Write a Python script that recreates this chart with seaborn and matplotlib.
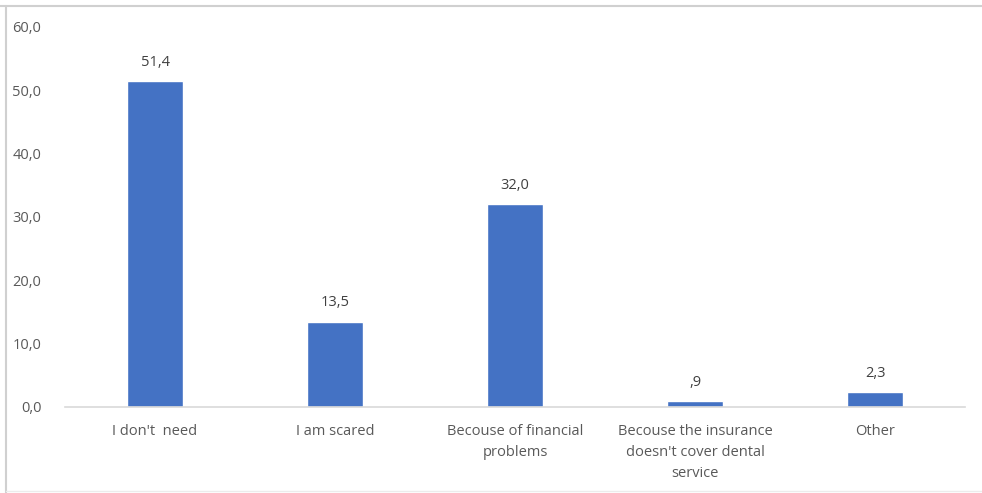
import matplotlib
matplotlib.use("Agg")
import matplotlib.pyplot as plt
from matplotlib.lines import Line2D
import seaborn as sns
import pandas as pd

categories = [
    "I don't  need",
    "I am scared",
    "Becouse of financial\nproblems",
    "Becouse the insurance\ndoesn't cover dental\nservice",
    "Other",
]
percentages = [51.4, 13.5, 32.0, 0.9, 2.3]
y_ticks = [0, 10, 20, 30, 40, 50, 60]

df = pd.DataFrame({"reason": categories, "percent": percentages})

sns.set_theme(style="white")
plt.rcParams["font.family"] = ["Open Sans", "DejaVu Sans"]

text_gray = "#595959"
bar_blue = "#4472C4"

fig = plt.figure(figsize=(9.82, 4.93), dpi=100)
ax = fig.add_axes([65 / 982, 1 - 407 / 493, 900 / 982, 380 / 493])

sns.barplot(data=df, x="reason", y="percent", color=bar_blue, width=0.31,
            saturation=1, ax=ax)


def fmt(v):
    s = f"{v:.1f}".replace(".", ",")
    return s[1:] if s.startswith("0,") else s


for patch, v in zip(ax.patches, percentages):
    ax.annotate(fmt(v), (patch.get_x() + patch.get_width() / 2, patch.get_height()),
                xytext=(0, 8), textcoords="offset points", ha="center", va="bottom",
                fontsize=10.5, color="#404040")

ax.set_ylim(0, 60)
ax.set_xlim(-0.5, 4.5)
ax.set_yticks(y_ticks)
ax.set_yticklabels([f"{t:.1f}".replace(".", ",") for t in y_ticks])
ax.set_xlabel("")
ax.set_ylabel("")
ax.tick_params(axis="both", length=0, labelsize=10.5, colors=text_gray)
ax.tick_params(axis="y", pad=17)
ax.tick_params(axis="x", pad=12)
for lbl in ax.get_xticklabels():
    lbl.set_linespacing(1.55)

for side in ("top", "right", "left"):
    ax.spines[side].set_visible(False)
ax.spines["bottom"].set_color("#d9d9d9")
ax.spines["bottom"].set_linewidth(1.2)

# outer chart frame
frame_c = "#d0d0d0"
fig.add_artist(Line2D([0, 1], [1 - 5.5 / 493] * 2, color=frame_c, lw=1.5))
fig.add_artist(Line2D([5.5 / 982] * 2, [0, 1 - 5.5 / 493], color=frame_c, lw=1.5))
fig.add_artist(Line2D([5.5 / 982, 1], [1 - 491 / 493] * 2, color="#ececec", lw=1))

fig.savefig("out.png", dpi=100)
